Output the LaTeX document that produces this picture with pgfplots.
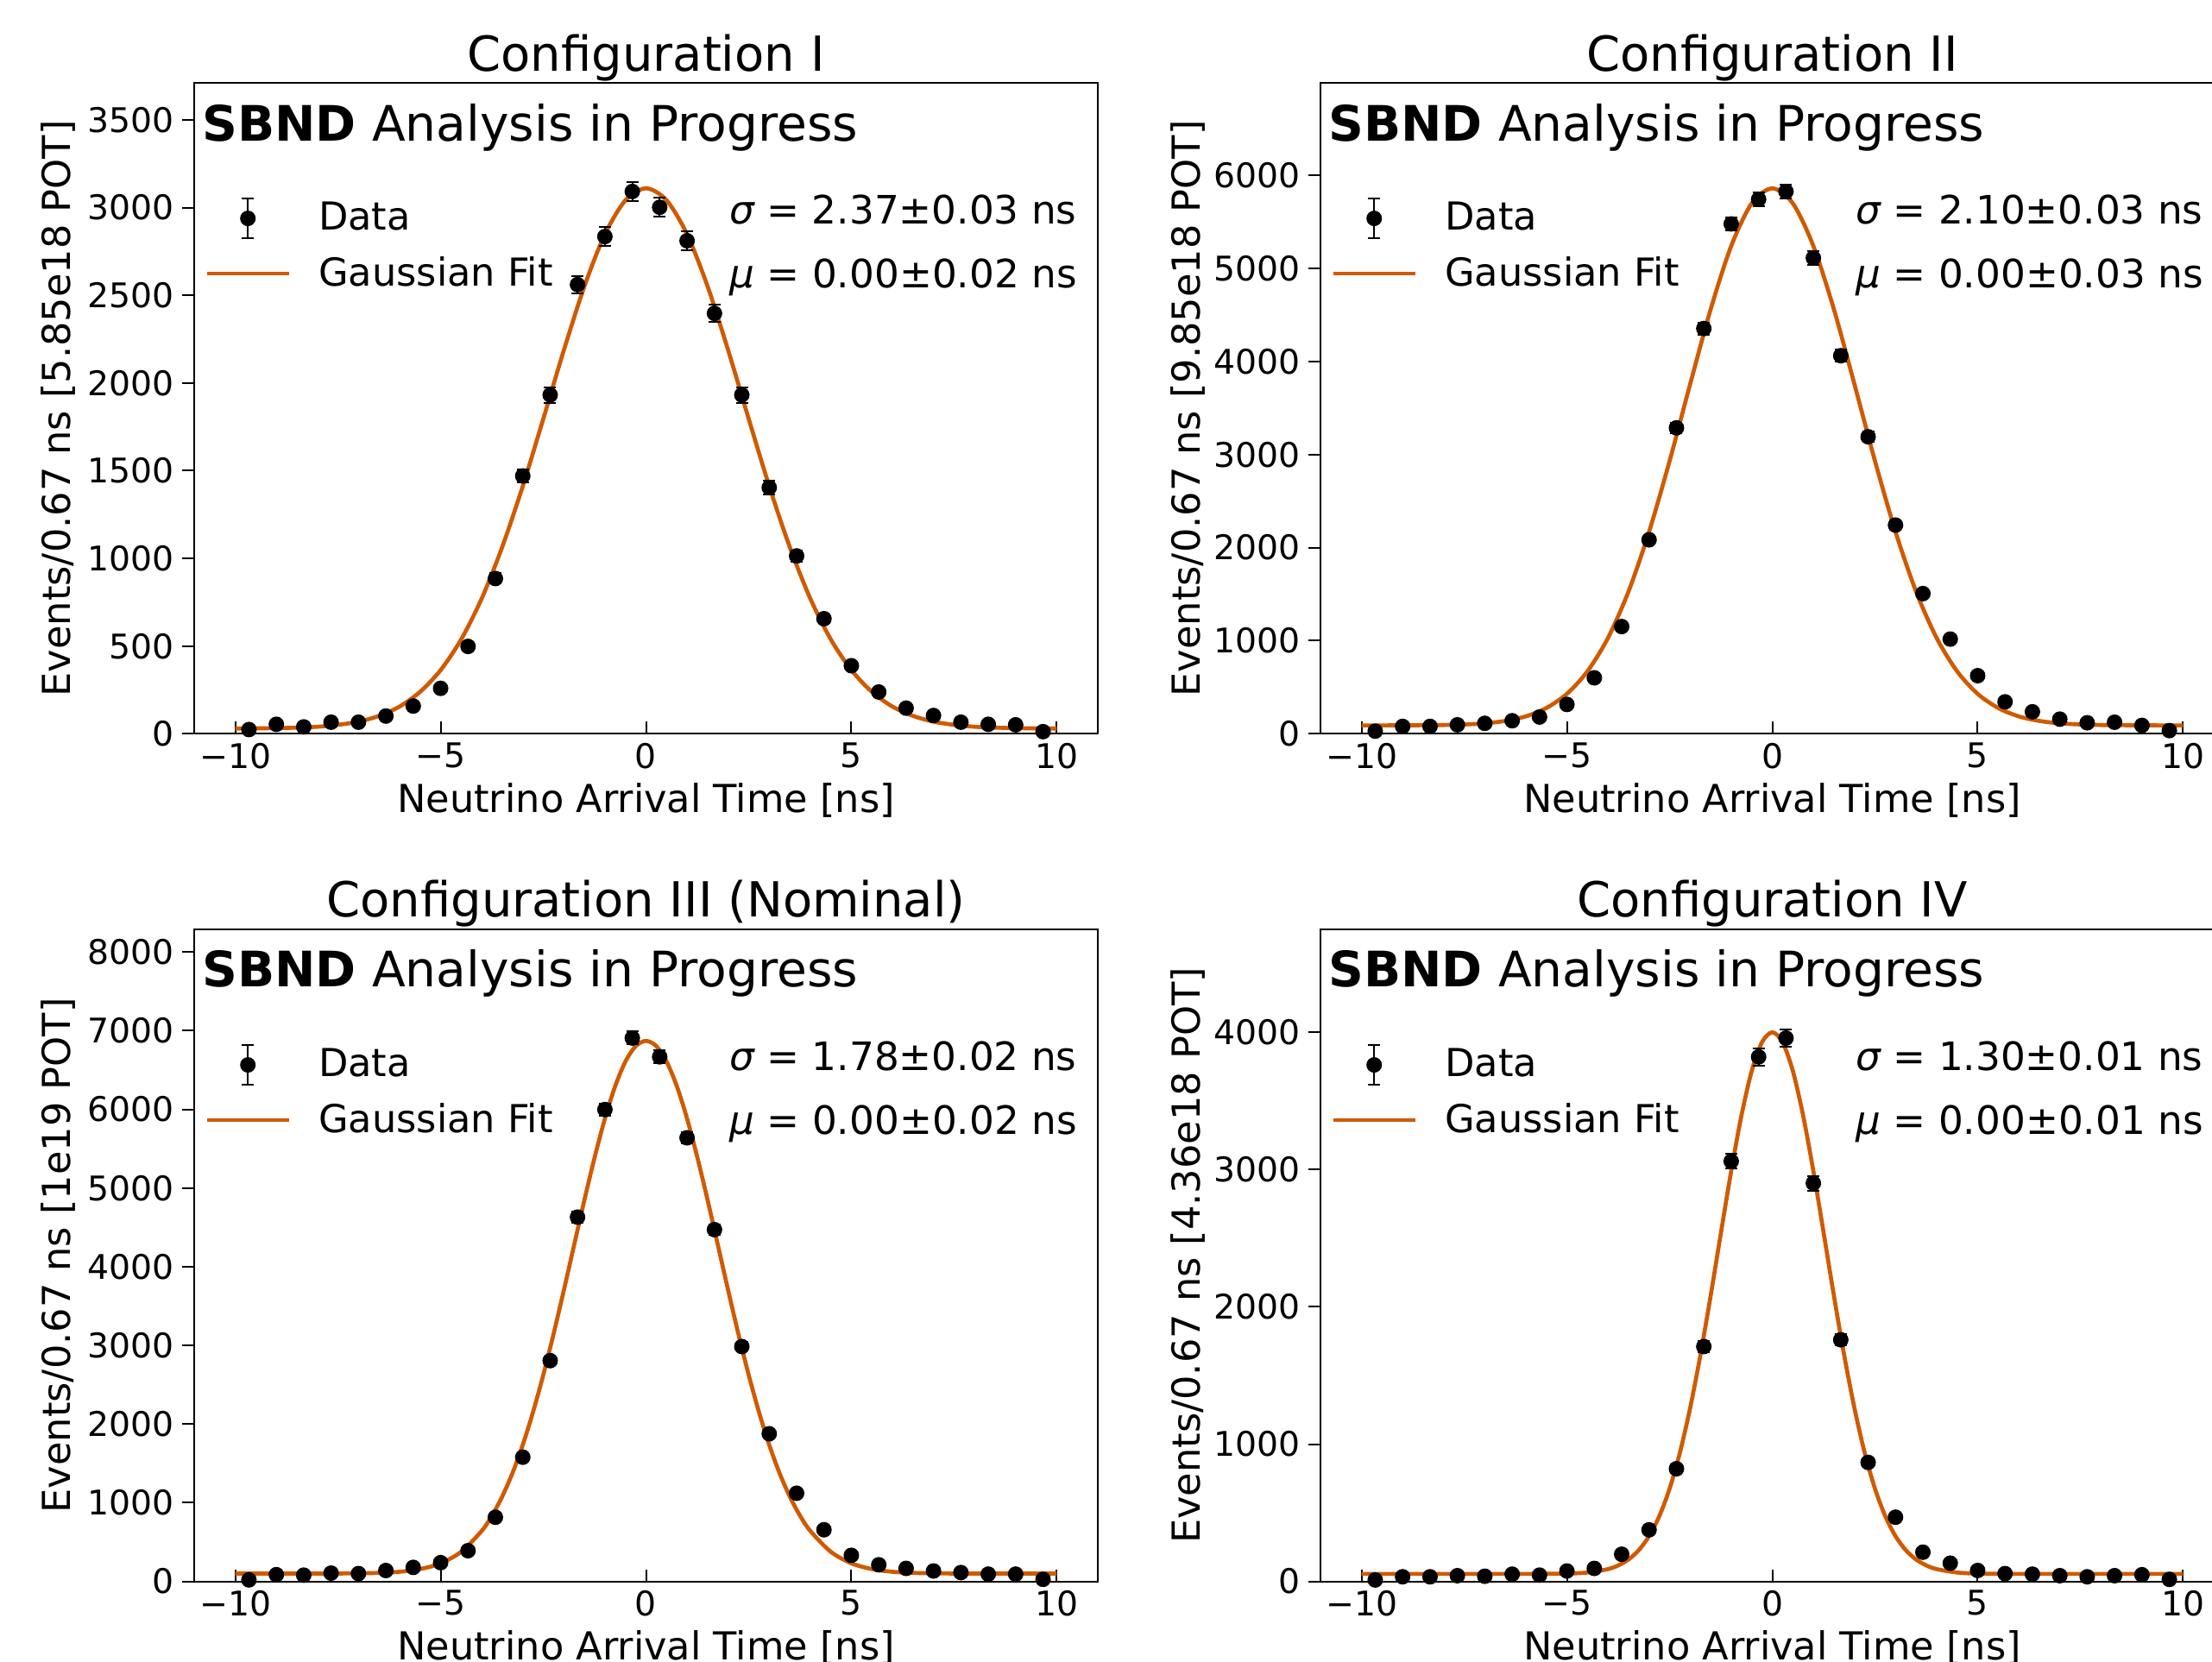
\documentclass[border=0pt]{standalone}
\usepackage{fontspec}
\setmainfont{DejaVu Sans}
\usepackage{pgfplots}
\usepackage{pgfplotstable}
\pgfplotsset{compat=1.18}
\definecolor{fitorange}{HTML}{D05A00}
\newcommand{\fsz}[1]{\fontsize{#1}{#1}\selectfont}

\pgfplotstableread{
x y e
-9.667 24 4.9
-9.000 54 7.3
-8.333 39 6.2
-7.667 66 8.1
-7.000 66 8.1
-6.333 101 10.0
-5.667 158 12.6
-5.000 259 16.1
-4.333 498 22.3
-3.667 885 29.7
-3.000 1470 38.3
-2.333 1932 44.0
-1.667 2561 50.6
-1.000 2835 53.2
-0.333 3092 55.6
0.333 3002 54.8
1.000 2811 53.0
1.667 2397 49.0
2.333 1932 44.0
3.000 1404 37.5
3.667 1014 31.8
4.333 656 25.6
5.000 388 19.7
5.667 238 15.4
6.333 146 12.1
7.000 104 10.2
7.667 66 8.1
8.333 54 7.3
9.000 51 7.1
9.667 12 3.5
}\dataI

\pgfplotstableread{
x y e
-9.667 28 5.3
-9.000 79 8.9
-8.333 79 8.9
-7.667 96 9.8
-7.000 112 10.6
-6.333 140 11.8
-5.667 180 13.4
-5.000 315 17.7
-4.333 601 24.5
-3.667 1152 33.9
-3.000 2084 45.7
-2.333 3287 57.3
-1.667 4354 66.0
-1.000 5478 74.0
-0.333 5742 75.8
0.333 5826 76.3
1.000 5112 71.5
1.667 4062 63.7
2.333 3191 56.5
3.000 2242 47.4
3.667 1506 38.8
4.333 1017 31.9
5.000 624 25.0
5.667 343 18.5
6.333 236 15.4
7.000 157 12.5
7.667 118 10.9
8.333 124 11.1
9.000 90 9.5
9.667 34 5.8
}\dataII

\pgfplotstableread{
x y e
-9.667 20 4.5
-9.000 86 9.3
-8.333 80 8.9
-7.667 106 10.3
-7.000 100 10.0
-6.333 139 11.8
-5.667 179 13.4
-5.000 239 15.5
-4.333 391 19.8
-3.667 816 28.6
-3.000 1579 39.7
-2.333 2806 53.0
-1.667 4630 68.0
-1.000 5997 77.4
-0.333 6906 83.1
0.333 6667 81.7
1.000 5638 75.1
1.667 4471 66.9
2.333 2985 54.6
3.000 1877 43.3
3.667 1121 33.5
4.333 657 25.6
5.000 332 18.2
5.667 212 14.6
6.333 166 12.9
7.000 133 11.5
7.667 113 10.6
8.333 93 9.6
9.000 93 9.6
9.667 27 5.2
}\dataIII

\pgfplotstableread{
x y e
-9.667 11 3.3
-9.000 34 5.8
-8.333 34 5.8
-7.667 42 6.5
-7.000 38 6.2
-6.333 53 7.3
-5.667 46 6.8
-5.000 76 8.7
-4.333 95 9.7
-3.667 198 14.1
-3.000 376 19.4
-2.333 821 28.7
-1.667 1711 41.4
-1.000 3061 55.3
-0.333 3821 61.8
0.333 3958 62.9
1.000 2901 53.9
1.667 1760 42.0
2.333 867 29.4
3.000 468 21.6
3.667 213 14.6
4.333 133 11.5
5.000 80 8.9
5.667 57 7.5
6.333 53 7.3
7.000 42 6.5
7.667 34 5.8
8.333 42 6.5
9.000 49 7.0
9.667 15 3.9
}\dataIV

\pgfplotsset{
  sbnd/.style={
    scale only axis,
    width=314.1pt,
    xmin=-11, xmax=11, ymin=0,
    xtick={-10,-5,0,5,10},
    xticklabels={−10,−5,0,5,10},
    scaled y ticks=false,
    yticklabel style={/pgf/number format/assume math mode=true, /pgf/number format/1000 sep={}},
    xtick pos=left, ytick pos=left,
    tick align=outside,
    major tick length=4.2pt,
    every tick/.style={black, line width=0.6pt},
    xtick style={yshift=4.2pt},
    axis line style={black, line width=0.6pt},
    tick label style={font=\fsz{11.8}},
    xticklabel style={inner sep=0pt, yshift=1.2pt},
    yticklabel style={inner sep=0pt, xshift=-2.7pt},
    xlabel={Neutrino Arrival Time [ns]},
    xlabel style={font=\fsz{13.4}, at={(axis description cs:0.5,0)}, anchor=base, yshift=-27.4pt},
    ylabel style={font=\fsz{13.4}, anchor=base},
    title style={font=\fsz{16.8}, at={(axis description cs:0.5,1)}, anchor=base, yshift=-1.8pt},
    legend cell align=left,
    legend style={draw=none, fill=none, inner sep=0pt, outer sep=0pt,
      at={(rel axis cs:0.012,0.8258)}, anchor=north west,
      font=\fsz{13.4}, row sep=3.7pt,
      /tikz/every odd column/.append style={column sep=7.7pt}},
  },
  fitstyle/.style={fitorange, line width=1.4pt, smooth, forget plot},
}

\newcommand{\dataplot}[1]{%
  \addplot[only marks, mark=*, mark size=2.5pt, black,
    legend image code/.code={%
      \path[draw=none, fill=none] (0pt,-6.9pt) rectangle (28.4pt,6.9pt);
      \draw[black, line width=0.6pt] (14.2pt,-6.9pt) -- (14.2pt,6.9pt);
      \draw[black, line width=0.6pt] (12.1pt,-6.9pt) -- (16.3pt,-6.9pt);
      \draw[black, line width=0.6pt] (12.1pt,6.9pt) -- (16.3pt,6.9pt);
      \fill[black] (14.2pt,0pt) circle (2.5pt);},
    error bars/.cd, y dir=both, y explicit,
    error bar style={line width=0.6pt, black},
    error mark options={rotate=90, line width=0.6pt, mark size=2.1pt, black}]
    table[x=x, y=y, y error=e] {#1};
  \addlegendentry{Data}
  \addlegendimage{legend image code/.code={%
      \path[draw=none, fill=none] (0pt,-0.7pt) rectangle (28.4pt,0.7pt);
      \draw[fitorange, line width=1.4pt] (0pt,0pt) -- (28.4pt,0pt);}}
  \addlegendentry{Gaussian Fit}}

\begin{document}
\begin{tikzpicture}
\useasboundingbox (0pt,0pt) rectangle (768.9pt,577.8pt);
\clip (0pt,0pt) rectangle (768.9pt,577.8pt);

% ---------------- Configuration I ----------------
\begin{axis}[sbnd, at={(67.5pt,322.7pt)}, anchor=south west, height=226.2pt,
  ymax=3710, ytick={0,500,1000,1500,2000,2500,3000,3500},
  title={Configuration I},
  ylabel={Events/0.67 ns [5.85e18 POT]},
  ylabel style={at={(axis description cs:-0.1369,0.5)}}]
\addplot[fitstyle] coordinates {(-10,30)(-9.5,31)(-9,32)(-8.5,35)(-8,40)(-7.5,51)(-7,69)(-6.5,102)(-6,155)(-5.5,239)(-5,363)(-4.5,538)(-4,771)(-3.5,1065)(-3,1412)(-2.5,1796)(-2,2187)(-1.5,2551)(-1,2848)(-0.5,3042)(0,3110)(0.5,3042)(1,2848)(1.5,2551)(2,2187)(2.5,1796)(3,1412)(3.5,1065)(4,771)(4.5,538)(5,363)(5.5,239)(6,155)(6.5,102)(7,69)(7.5,51)(8,40)(8.5,35)(9,32)(9.5,31)(10,30)};
\dataplot{\dataI}
\node[anchor=base west, font=\fsz{17}, inner sep=0pt] at (rel axis cs:0.0085,0.9115) {\textbf{SBND} Analysis in Progress};
\node[anchor=base west, font=\fsz{13.6}, inner sep=0pt] at (rel axis cs:0.592,0.7834) {{\itshape σ} = 2.37±0.03 ns};
\node[anchor=base west, font=\fsz{13.6}, inner sep=0pt] at (rel axis cs:0.592,0.6853) {{\itshape μ} = 0.00±0.02 ns};
\end{axis}

% ---------------- Configuration II ----------------
\begin{axis}[sbnd, at={(459pt,322.7pt)}, anchor=south west, height=226.2pt,
  ymax=6991, ytick={0,1000,2000,3000,4000,5000,6000},
  title={Configuration II},
  ylabel={Events/0.67 ns [9.85e18 POT]},
  ylabel style={at={(axis description cs:-0.1337,0.5)}}]
\addplot[fitstyle] coordinates {(-10,90)(-9.5,90)(-9,91)(-8.5,92)(-8,94)(-7.5,100)(-7,112)(-6.5,138)(-6,187)(-5.5,277)(-5,429)(-4.5,671)(-4,1030)(-3.5,1529)(-3,2170)(-2.5,2931)(-2,3756)(-1.5,4561)(-1,5241)(-0.5,5699)(0,5860)(0.5,5699)(1,5241)(1.5,4561)(2,3756)(2.5,2931)(3,2170)(3.5,1529)(4,1030)(4.5,671)(5,429)(5.5,277)(6,187)(6.5,138)(7,112)(7.5,100)(8,94)(8.5,92)(9,91)(9.5,90)(10,90)};
\dataplot{\dataII}
\node[anchor=base west, font=\fsz{17}, inner sep=0pt] at (rel axis cs:0.0085,0.9115) {\textbf{SBND} Analysis in Progress};
\node[anchor=base west, font=\fsz{13.6}, inner sep=0pt] at (rel axis cs:0.592,0.7834) {{\itshape σ} = 2.10±0.03 ns};
\node[anchor=base west, font=\fsz{13.6}, inner sep=0pt] at (rel axis cs:0.592,0.6853) {{\itshape μ} = 0.00±0.03 ns};
\end{axis}

% ---------------- Configuration III ----------------
\begin{axis}[sbnd, at={(67.5pt,28.0pt)}, anchor=south west, height=226.7pt,
  ymax=8287, ytick={0,1000,2000,3000,4000,5000,6000,7000,8000},
  title={Configuration III (Nominal)},
  ylabel={Events/0.67 ns [1e19 POT]},
  ylabel style={at={(axis description cs:-0.1369,0.5)}}]
\addplot[fitstyle] coordinates {(-10,100)(-9,100)(-8,100)(-7.5,101)(-7,103)(-6.5,109)(-6,123)(-5.5,157)(-5,231)(-4.5,377)(-4,642)(-3.75,836)(-3.5,1080)(-3.25,1378)(-3,1736)(-2.75,2153)(-2.5,2625)(-2.25,3145)(-2,3701)(-1.75,4275)(-1.5,4847)(-1.25,5390)(-1,5882)(-0.75,6295)(-0.5,6608)(-0.25,6804)(0,6870)(0.25,6804)(0.5,6608)(0.75,6295)(1,5882)(1.25,5390)(1.5,4847)(1.75,4275)(2,3701)(2.25,3145)(2.5,2625)(2.75,2153)(3,1736)(3.25,1378)(3.5,1080)(3.75,836)(4,642)(4.5,377)(5,231)(5.5,157)(6,123)(6.5,109)(7,103)(7.5,101)(8,100)(9,100)(10,100)};
\dataplot{\dataIII}
\node[anchor=base west, font=\fsz{17}, inner sep=0pt] at (rel axis cs:0.0085,0.9115) {\textbf{SBND} Analysis in Progress};
\node[anchor=base west, font=\fsz{13.6}, inner sep=0pt] at (rel axis cs:0.592,0.7834) {{\itshape σ} = 1.78±0.02 ns};
\node[anchor=base west, font=\fsz{13.6}, inner sep=0pt] at (rel axis cs:0.592,0.6853) {{\itshape μ} = 0.00±0.02 ns};
\end{axis}

% ---------------- Configuration IV ----------------
\begin{axis}[sbnd, at={(459pt,28.0pt)}, anchor=south west, height=226.7pt,
  ymax=4750, ytick={0,1000,2000,3000,4000},
  title={Configuration IV},
  ylabel={Events/0.67 ns [4.36e18 POT]},
  ylabel style={at={(axis description cs:-0.1337,0.5)}}]
\addplot[fitstyle] coordinates {(-10,55)(-9,55)(-8,55)(-7,55)(-6,55)(-5.5,56)(-5,57)(-4.5,65)(-4,90)(-3.75,117)(-3.5,160)(-3.25,228)(-3,330)(-2.75,476)(-2.5,676)(-2.25,937)(-2,1263)(-1.75,1649)(-1.5,2082)(-1.25,2540)(-1,2990)(-0.75,3395)(-0.5,3719)(-0.25,3928)(0,4000)(0.25,3928)(0.5,3719)(0.75,3395)(1,2990)(1.25,2540)(1.5,2082)(1.75,1649)(2,1263)(2.25,937)(2.5,676)(2.75,476)(3,330)(3.25,228)(3.5,160)(3.75,117)(4,90)(4.5,65)(5,57)(5.5,56)(6,55)(7,55)(8,55)(9,55)(10,55)};
\dataplot{\dataIV}
\node[anchor=base west, font=\fsz{17}, inner sep=0pt] at (rel axis cs:0.0085,0.9115) {\textbf{SBND} Analysis in Progress};
\node[anchor=base west, font=\fsz{13.6}, inner sep=0pt] at (rel axis cs:0.592,0.7834) {{\itshape σ} = 1.30±0.01 ns};
\node[anchor=base west, font=\fsz{13.6}, inner sep=0pt] at (rel axis cs:0.592,0.6853) {{\itshape μ} = 0.00±0.01 ns};
\end{axis}
\end{tikzpicture}
\end{document}
